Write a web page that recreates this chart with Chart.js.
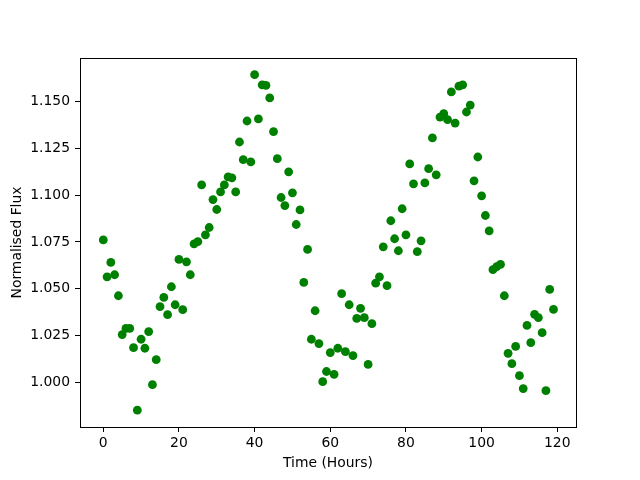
<!DOCTYPE html>
<html>
<head>
<meta charset="utf-8">
<script src="https://cdn.jsdelivr.net/npm/chart.js@4/dist/chart.umd.min.js"></script>
<style>
  html, body { margin: 0; padding: 0; background: #fff; }
  #wrap { width: 640px; height: 480px; position: relative; }
</style>
</head>
<body>
<div id="wrap"><canvas id="fluxChart" width="640" height="480"></canvas></div>
<script>
// Time in hours, one sample per hour
const hours = [];
for (let h = 0; h < 120; h++) hours.push(h);

// Normalised flux
const flux = [
    1.0761, 1.0564, 1.0641, 1.0575, 1.0463, 1.0256, 1.0289, 1.0289, 1.0186, 0.9853,
    1.0231, 1.0183, 1.0272, 0.9989, 1.0122, 1.0405, 1.0454, 1.0362, 1.0511, 1.0415,
    1.0657, 1.0389, 1.0644, 1.0575, 1.0740, 1.0752, 1.1054, 1.0788, 1.0827, 1.0976,
    1.0923, 1.1017, 1.1054, 1.1097, 1.1092, 1.1017, 1.1283, 1.1189, 1.1395, 1.1177,
    1.1642, 1.1406, 1.1588, 1.1585, 1.1518, 1.1338, 1.1194, 1.0987, 1.0944, 1.1124,
    1.1012, 1.0843, 1.0921, 1.0534, 1.0710, 1.0231, 1.0383, 1.0208, 1.0005, 1.0059,
    1.0160, 1.0044, 1.0183, 1.0474, 1.0165, 1.0415, 1.0144, 1.0342, 1.0396, 1.0346,
    1.0097, 1.0314, 1.0530, 1.0564, 1.0724, 1.0517, 1.0863, 1.0767, 1.0703, 1.0927,
    1.0788, 1.1166, 1.1060, 1.0698, 1.0756, 1.1065, 1.1141, 1.1305, 1.1108, 1.1416,
    1.1434, 1.1402, 1.1550, 1.1384, 1.1581, 1.1588, 1.1443, 1.1480, 1.1076, 1.1203,
    1.0996, 1.0891, 1.0809, 1.0602, 1.0618, 1.0630, 1.0463, 1.0156, 1.0101, 1.0193,
    1.0037, 0.9968, 1.0305, 1.0213, 1.0364, 1.0346, 1.0266, 0.9957, 1.0497, 1.0390
];

const xTicks = [0, 20, 40, 60, 80, 100, 120];
const yTicks = [1.000, 1.025, 1.050, 1.075, 1.100, 1.125, 1.150];

const points = hours.map((h, i) => ({ x: h, y: flux[i] }));

// matplotlib-style full box round the plot area
const frame = {
    id: 'frame',
    afterDatasetsDraw(chart) {
        const { ctx, chartArea: a } = chart;
        ctx.save();
        ctx.strokeStyle = '#000';
        ctx.lineWidth = 1;
        ctx.strokeRect(Math.round(a.left) + 0.5, Math.round(a.top) + 0.5,
            Math.round(a.right - a.left), Math.round(a.bottom - a.top));
        ctx.restore();
    }
};

const font = { family: "'DejaVu Sans', sans-serif", size: 13.9 };

new Chart(document.getElementById('fluxChart'), {
    type: 'scatter',
    data: {
        datasets: [{
            data: points,
            backgroundColor: '#008000',
            borderWidth: 0,
            pointRadius: 4.4,
            pointHoverRadius: 4.4
        }]
    },
    options: {
        responsive: false,
        animation: false,
        events: [],
        layout: { padding: { top: 58, right: 64, left: 0, bottom: 0 } },
        plugins: { legend: { display: false }, tooltip: { enabled: false } },
        scales: {
            x: {
                type: 'linear',
                min: -6.15,
                max: 124.95,
                afterFit: s => { s.height = 53; },
                afterBuildTicks: s => { s.ticks = xTicks.map(v => ({ value: v })); },
                border: { display: true, color: '#000', width: 1 },
                grid: { display: true, drawOnChartArea: false, drawTicks: true, tickLength: 5, color: '#000' },
                ticks: { color: '#000', font, padding: 3, maxRotation: 0 },
                title: { display: true, text: 'Time (Hours)', color: '#000', font, padding: { top: 0, bottom: 8 } }
            },
            y: {
                type: 'linear',
                min: 0.9763,
                max: 1.1731,
                afterFit: s => { s.width = 80; },
                afterBuildTicks: s => { s.ticks = yTicks.map(v => ({ value: v })); },
                border: { display: true, color: '#000', width: 1 },
                grid: { display: true, drawOnChartArea: false, drawTicks: true, tickLength: 5, color: '#000' },
                ticks: { color: '#000', font, padding: 5, callback: v => v.toFixed(3) },
                title: { display: true, text: 'Normalised Flux', color: '#000', font, padding: { top: 9, bottom: 0 } }
            }
        }
    },
    plugins: [frame]
});
</script>
</body>
</html>
